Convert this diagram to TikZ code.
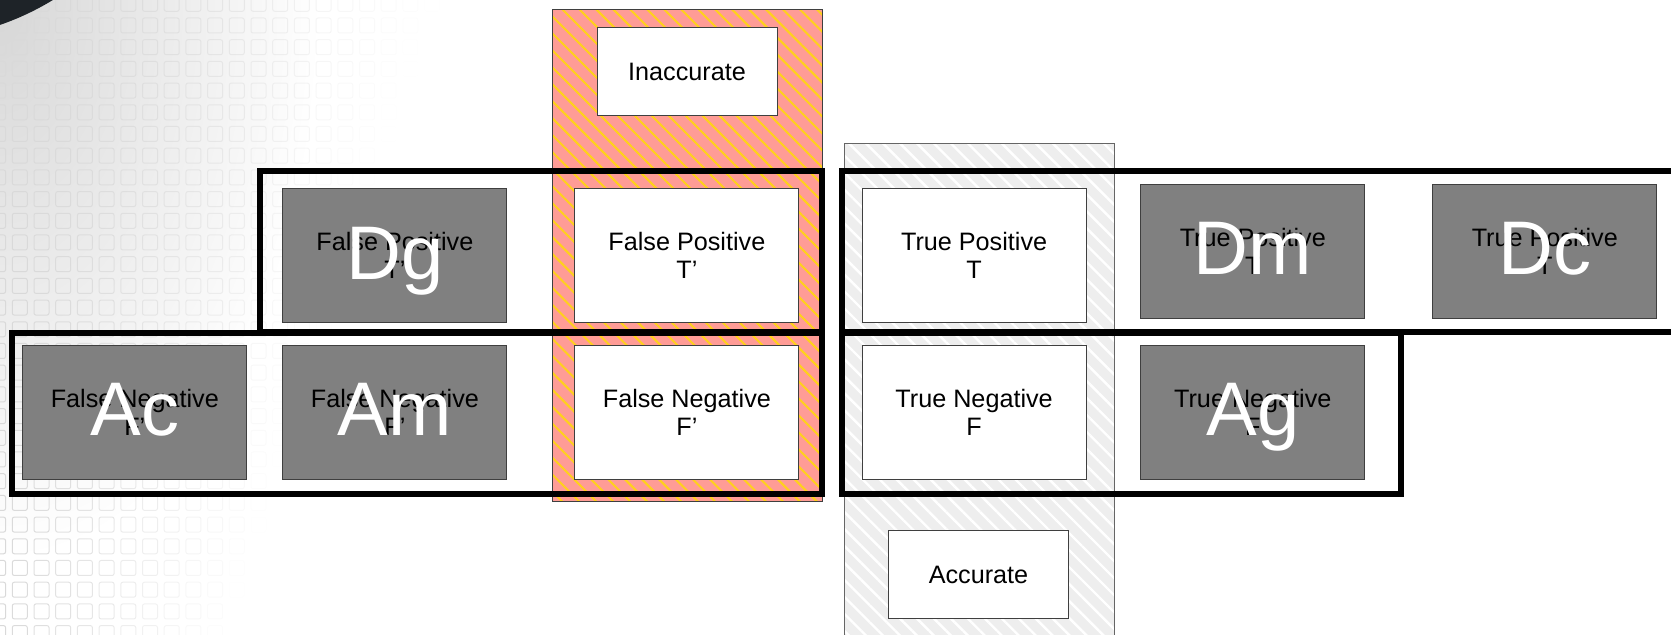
\documentclass[tikz,border=0pt]{standalone}
\usepackage{fontspec}
\setmainfont{Liberation Sans}
\usetikzlibrary{patterns.meta}
\definecolor{cbox}{HTML}{808080}
\definecolor{cedge}{HTML}{3F3F3F}
\definecolor{csalmon}{HTML}{FF9C96}
\definecolor{cyellow}{HTML}{FFD21A}
\definecolor{cpale}{HTML}{EEEEEE}
\definecolor{cblob}{HTML}{1E2328}
\tikzset{
  every picture/.style={line width=0.5pt},
  cell/.style={draw=cedge, fill=#1, minimum width=112pt, minimum height=67pt, align=center, inner sep=0pt, font=\fontsize{12.6}{14}\selectfont},
  cell/.default=white,
  tag/.style={cell, minimum width=90pt, minimum height=44pt},
  big/.style={text=white, anchor=base, inner sep=0pt, yshift=-11.75pt, font=\fontsize{38}{40}\selectfont},
  group/.style={draw=black, line width=3pt},
  inaccband/.style={preaction={fill=csalmon}, preaction={pattern={Lines[angle=-45, distance=6pt, line width=1pt]}, pattern color=cyellow}, draw=cedge},
  accband/.style={preaction={fill=cpale}, preaction={pattern={Lines[angle=-45, distance=6pt, line width=1.2pt]}, pattern color=white}, draw=cedge!80},
}

\begin{document}
\begin{tikzpicture}[x=0.5pt, y=-0.5pt]
  \useasboundingbox (0,0) rectangle (1671,635);
  \clip (0,0) rectangle (1671,635);
  % slide background: glow, faded grid, dark corner
  \shade[inner color=black!16, outer color=white] (0,0) ellipse (320 and 560);
  \foreach \i in {0,...,20} {
    \foreach \j in {0,...,29} {
      \pgfmathsetmacro\gx{-9.4+21.7*\i}
      \pgfmathsetmacro\gy{-3.7+21.7*\j}
      \pgfmathsetmacro\gop{max(0,1-\gx/(430-0.33*\gy))}
      \draw[black!15, draw opacity=\gop, rounded corners=1pt] (\gx,\gy) rectangle ++(15,15);
    }
  }
  \fill[cblob] (-90,-235) circle (275);
  % inaccurate / accurate bands
  \path[inaccband] (552,9.5) rectangle (822,502);
  \path[accband] (844.5,144) rectangle (1114,660);
  % groupings
  \draw[group] (260,171) rectangle (822,332);
  \draw[group] (12,333) rectangle (822,494);
  \draw[group] (842,171) rectangle (1720,332);
  \draw[group] (842,333) rectangle (1401,494);
  % band titles
  \node[tag] (inacc) at (687,72) {Inaccurate};
  \node[tag] (acc) at (978.5,574.5) {Accurate};
  % top row
  \node[cell=cbox] (dg) at (394.9,255.8) {False Positive\\T’};
  \node[cell] (fp) at (686.9,255.8) {False Positive\\T’};
  \node[cell] (tp) at (974.1,255.8) {True Positive\\T};
  \node[cell=cbox] (dm) at (1252.8,251.5) {True Positive\\T};
  \node[cell=cbox] (dc) at (1544.8,251.5) {True Positive\\T};
  % bottom row
  \node[cell=cbox] (ac) at (134.8,412.5) {False Negative\\F’};
  \node[cell=cbox] (am) at (394.9,412.5) {False Negative\\F’};
  \node[cell] (fn) at (686.9,412.5) {False Negative\\F’};
  \node[cell] (tn) at (974.1,412.5) {True Negative\\F};
  \node[cell=cbox] (ag) at (1252.8,412.5) {True Negative\\F};
  % big labels
  \node[big] (dglab) at (dg.center) {Dg};
  \node[big] (dmlab) at (dm.center) {Dm};
  \node[big] (dclab) at (dc.center) {Dc};
  \node[big] (aclab) at (ac.center) {Ac};
  \node[big] (amlab) at (am.center) {Am};
  \node[big] (aglab) at (ag.center) {Ag};
\end{tikzpicture}
\end{document}
